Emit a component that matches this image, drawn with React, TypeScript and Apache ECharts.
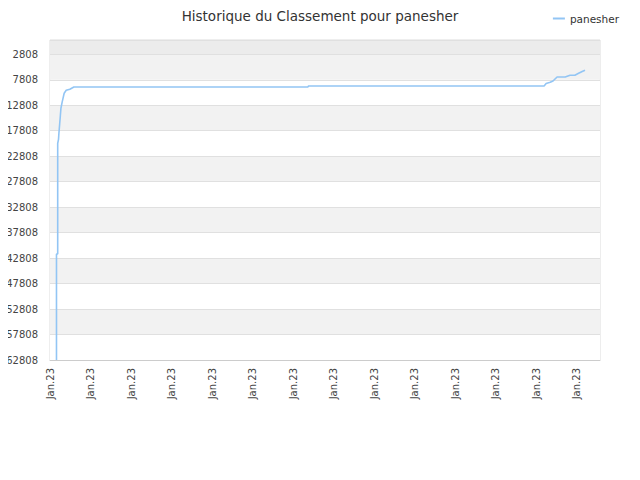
import React, { useEffect, useRef } from 'react';
import * as echarts from 'echarts';

// ranking history, x = position in label steps (each "Jan.23" tick = 1)
const xPos = [
  0.16, 0.16, 0.19, 0.19, 0.21, 0.22, 0.25, 0.27, 0.3, 0.35, 0.4, 0.49, 0.59,
  6.37, 6.38, 12.2, 12.25, 12.35, 12.42, 12.52, 12.72, 12.84, 12.96, 13.04, 13.14, 13.21
];
const ranks = [
  62808, 42000, 42000, 20300, 19500, 18300, 15400, 13400, 12200, 10450, 9870, 9670, 9220,
  9220, 9030, 9030, 8550, 8300, 8040, 7260, 7260, 6930, 6930, 6590, 6200, 5950
];
const xTickLabels = [
  'Jan.23', 'Jan.23', 'Jan.23', 'Jan.23', 'Jan.23', 'Jan.23', 'Jan.23',
  'Jan.23', 'Jan.23', 'Jan.23', 'Jan.23', 'Jan.23', 'Jan.23', 'Jan.23'
];
const seriesName = 'panesher';
const worstRank = 62808;
const rankStep = 5000;
const xMax = 13.58;

const FONT = 'DejaVu Sans';

export default function App() {
  const chartRef = useRef<HTMLDivElement>(null);

  useEffect(() => {
    if (!chartRef.current) return;
    const chart = echarts.init(chartRef.current, null, { renderer: 'svg' });

    // rank axis is drawn flipped: plotted value = worstRank - rank
    const points = xPos.map((x, i) => [x, worstRank - ranks[i]]);
    const bandCount = Math.ceil(worstRank / rankStep);
    const bandColors = Array.from({ length: bandCount }, (_, i) =>
      i === bandCount - 1 ? '#ececec' : i % 2 ? '#f2f2f2' : '#ffffff'
    );

    const option: echarts.EChartsOption = {
      animation: false,
      textStyle: { fontFamily: FONT },
      title: {
        text: 'Historique du Classement pour panesher',
        left: 'center',
        top: 4,
        textStyle: { fontFamily: FONT, fontSize: 13.5, fontWeight: 'normal', color: '#333' }
      },
      legend: {
        right: 16,
        top: 8,
        itemWidth: 12,
        itemHeight: 2,
        itemGap: 5,
        data: [{ name: seriesName, icon: 'rect' }],
        textStyle: { fontFamily: FONT, fontSize: 10.5, color: '#333' }
      },
      grid: {
        left: 50,
        right: 40,
        top: 40,
        bottom: 120,
        show: true,
        borderColor: '#dcdcdc',
        borderWidth: 1
      },
      xAxis: {
        type: 'value',
        min: 0,
        max: xMax,
        interval: 1,
        axisLine: { show: true, lineStyle: { color: '#cccccc' } },
        axisTick: { show: false },
        splitLine: { show: false },
        axisLabel: {
          rotate: 90,
          margin: 8,
          fontFamily: FONT,
          fontSize: 10,
          color: '#444',
          showMaxLabel: false,
          formatter: (v: number) =>
            Number.isInteger(v) && v < xTickLabels.length ? xTickLabels[v] : ''
        }
      },
      yAxis: {
        type: 'value',
        min: 0,
        max: worstRank,
        interval: rankStep,
        axisLine: { show: false },
        axisTick: { show: false },
        splitLine: { show: true, lineStyle: { color: '#e0e0e0' } },
        splitArea: { show: true, areaStyle: { color: bandColors } },
        axisLabel: {
          margin: 12,
          fontFamily: FONT,
          fontSize: 10,
          color: '#444',
          formatter: (v: number) => (v % rankStep === 0 ? String(worstRank - v) : '')
        }
      },
      series: [
        {
          name: seriesName,
          type: 'line',
          data: points,
          showSymbol: false,
          lineStyle: { color: '#92c5f4', width: 1.6 },
          itemStyle: { color: '#92c5f4' }
        }
      ]
    };

    chart.setOption(option);
    return () => {
      chart.dispose();
    };
  }, []);

  return <div ref={chartRef} style={{ width: 640, height: 480, margin: -8 }} />;
}
